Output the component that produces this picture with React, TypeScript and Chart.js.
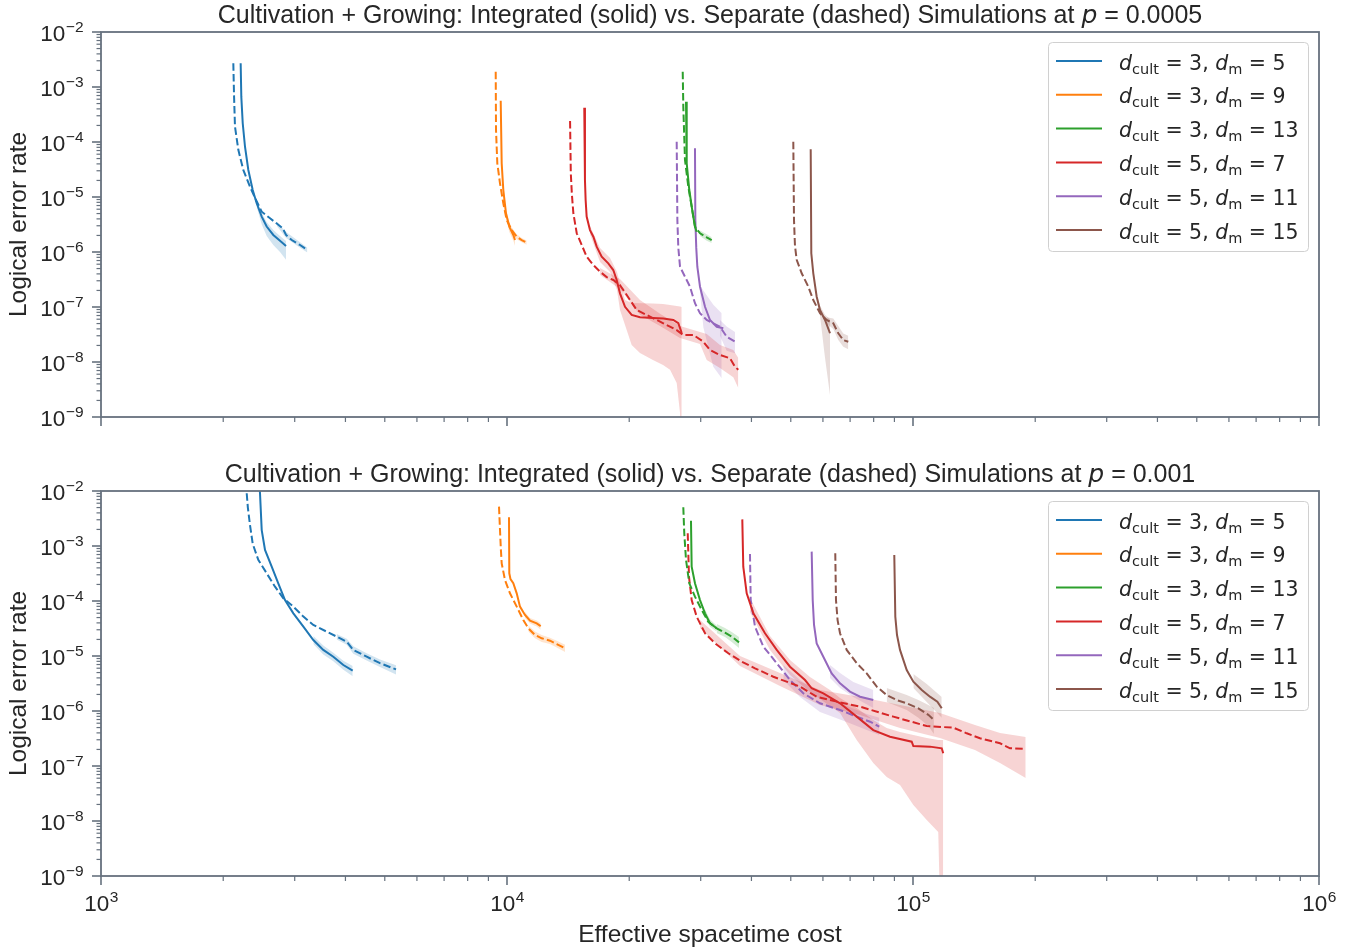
import React, { useEffect, useRef } from "react";
import { Chart, registerables } from "chart.js";
Chart.register(...registerables);

// ---------- labels / categories ----------
const SERIES_COLORS = ["#1f77b4", "#ff7f0e", "#2ca02c", "#d62728", "#9467bd", "#8c564b"];
const D_CULT = [3, 3, 3, 5, 5, 5];
const D_M = [5, 9, 13, 7, 11, 15];
const X_DECADES = [3, 4, 5, 6];
const Y_DECADES = [-9, -8, -7, -6, -5, -4, -3, -2];
const P_VALUES = ["0.0005", "0.001"];
const TITLE_PREFIX = "Cultivation + Growing: Integrated (solid) vs. Separate (dashed) Simulations at ";
const X_LABEL = "Effective spacetime cost";
const Y_LABEL = "Logical error rate";

// ---------- top panel (p = 0.0005) ----------
const T_BLUE_INT_X = [2208, 2216, 2234, 2263, 2306, 2364, 2418, 2488, 2559, 2657, 2760, 2856];
const T_BLUE_INT_Y = [2.7e-3, 6.67e-4, 2.19e-4, 8.2e-5, 3.1e-5, 1.34e-5, 7.7e-6, 4.4e-6, 2.9e-6, 2.04e-6, 1.6e-6, 1.29e-6];
const T_BLUE_INT_BX = [2418, 2488, 2559, 2657, 2760, 2856];
const T_BLUE_INT_LO = [6.6e-6, 3.2e-6, 1.95e-6, 1.34e-6, 1.0e-6, 7.2e-7];
const T_BLUE_INT_HI = [8.8e-6, 5.1e-6, 3.5e-6, 2.5e-6, 1.95e-6, 1.58e-6];
const T_BLUE_SEP_X = [2118, 2127, 2138, 2179, 2241, 2328, 2409, 2488, 2608, 2709, 2803, 2856, 2950, 3092, 3223];
const T_BLUE_SEP_Y = [2.7e-3, 6.67e-4, 1.9e-4, 7.2e-5, 3.1e-5, 1.54e-5, 8.8e-6, 5.4e-6, 4.1e-6, 3.3e-6, 2.7e-6, 2.04e-6, 1.65e-6, 1.34e-6, 1.09e-6];
const T_BLUE_SEP_BX = [2709, 2856, 3092, 3223];
const T_BLUE_SEP_LO = [3.0e-6, 1.8e-6, 1.2e-6, 0.98e-6];
const T_BLUE_SEP_HI = [3.6e-6, 2.3e-6, 1.5e-6, 1.2e-6];

const T_ORANGE_INT_X = [9649, 9703, 9793, 9943, 10131, 10364, 10464];
const T_ORANGE_INT_Y = [5.6e-4, 4.1e-5, 1.34e-5, 5.06e-6, 2.9e-6, 2.04e-6, 1.65e-6];
const T_ORANGE_INT_BX = [9943, 10131, 10364, 10464];
const T_ORANGE_INT_LO = [4.2e-6, 2.3e-6, 1.6e-6, 1.3e-6];
const T_ORANGE_INT_HI = [5.8e-6, 3.5e-6, 2.4e-6, 1.9e-6];
const T_ORANGE_SEP_X = [9380, 9396, 9465, 9611, 9793, 9984, 10271, 10566, 10870, 11183];
const T_ORANGE_SEP_Y = [1.9e-3, 1.65e-4, 4.1e-5, 1.77e-5, 7.7e-6, 3.8e-6, 2.5e-6, 1.9e-6, 1.65e-6, 1.48e-6];
const T_ORANGE_SEP_BX = [10271, 10566, 10870, 11183];
const T_ORANGE_SEP_LO = [2.2e-6, 1.7e-6, 1.5e-6, 1.35e-6];
const T_ORANGE_SEP_HI = [2.8e-6, 2.1e-6, 1.8e-6, 1.62e-6];

const T_GREEN_INT_X = [27600, 27710, 28120, 28670, 29040, 29320];
const T_GREEN_INT_Y = [5.4e-4, 4.1e-5, 1.34e-5, 5.06e-6, 2.9e-6, 2.34e-6];
const T_GREEN_INT_BX = [28670, 29040, 29320];
const T_GREEN_INT_LO = [4.2e-6, 2.4e-6, 1.9e-6];
const T_GREEN_INT_HI = [6.0e-6, 3.4e-6, 2.8e-6];
const T_GREEN_SEP_X = [27090, 27180, 27440, 27960, 28500, 29040, 29880, 31040, 31930];
const T_GREEN_SEP_Y = [1.9e-3, 4.38e-4, 4.7e-5, 1.54e-5, 6.7e-6, 2.9e-6, 2.19e-6, 1.85e-6, 1.65e-6];
const T_GREEN_SEP_BX = [29880, 31040, 31930];
const T_GREEN_SEP_LO = [1.95e-6, 1.6e-6, 1.45e-6];
const T_GREEN_SEP_HI = [2.45e-6, 2.1e-6, 1.85e-6];

const T_RED_INT_X = [15500, 15560, 15620, 15710, 16010, 16320, 16630, 17110, 17760, 18270, 18630, 18980, 19530, 20280, 21260, 22880, 24270, 25680, 26420, 26940];
const T_RED_INT_Y = [4.2e-4, 2.04e-5, 8.8e-6, 4.4e-6, 2.5e-6, 1.9e-6, 1.25e-6, 8.2e-7, 6.2e-7, 4.7e-7, 3.1e-7, 1.77e-7, 1.01e-7, 7.2e-8, 6.5e-8, 6.3e-8, 6.2e-8, 5.8e-8, 5.06e-8, 3.37e-8];
const T_RED_INT_BX = [16010, 16950, 17940, 18660, 18980, 19530, 20280, 21260, 22880, 24230, 25210, 26180, 26680, 26940];
const T_RED_INT_LO = [2.12e-6, 6.6e-7, 4.33e-7, 2.04e-7, 8.8e-8, 4.7e-8, 2.04e-8, 1.46e-8, 1.09e-8, 8.8e-9, 7.2e-9, 4.15e-9, 1.18e-9, 1e-12];
const T_RED_INT_HI = [2.97e-6, 1.18e-6, 7.8e-7, 4.33e-7, 2.73e-7, 1.34e-7, 1.18e-7, 1.17e-7, 1.16e-7, 1.13e-7, 1.09e-7, 1.04e-7, 1.02e-7, 1.0e-7];
const T_RED_SEP_X = [14300, 14360, 14450, 14570, 14850, 15280, 15710, 16320, 16950, 17600, 18270, 18980, 19720, 20870, 22500, 24270, 26180, 27180, 28770, 30450, 31620, 33460, 35420, 36440, 37130];
const T_RED_SEP_Y = [2.41e-4, 2.7e-5, 1.1e-5, 5.06e-6, 2.19e-6, 1.34e-6, 8.2e-7, 5.8e-7, 4.38e-7, 3.5e-7, 3.1e-7, 2.5e-7, 1.65e-7, 8.8e-8, 6.7e-8, 5.06e-8, 3.8e-8, 3.1e-8, 3.1e-8, 2.34e-8, 1.65e-8, 1.34e-8, 1.17e-8, 8.2e-9, 7.2e-9];
const T_RED_SEP_BX = [16950, 18980, 21260, 23820, 26680, 29880, 31040, 33460, 36090, 37130];
const T_RED_SEP_LO = [3.8e-7, 2.12e-7, 7.2e-8, 4.5e-8, 2.73e-8, 2.12e-8, 1.09e-8, 7.8e-9, 5.3e-9, 3.37e-9];
const T_RED_SEP_HI = [5.1e-7, 3.23e-7, 1.34e-7, 7.5e-8, 4.5e-8, 3.5e-8, 3.23e-8, 2.04e-8, 1.65e-8, 1.18e-8];

const T_PURPLE_INT_X = [29040, 29100, 29250, 29430, 29880, 30740, 31620, 32850, 34100];
const T_PURPLE_INT_Y = [7.7e-5, 3.8e-6, 1.2e-6, 5.4e-7, 2.34e-7, 1.01e-7, 5.8e-8, 4.38e-8, 4.1e-8];
const T_PURPLE_INT_BX = [29880, 30450, 32220, 33790];
const T_PURPLE_INT_LO = [1.87e-7, 4.3e-8, 8.2e-9, 5.06e-9];
const T_PURPLE_INT_HI = [2.5e-7, 2.0e-7, 1.1e-7, 7.7e-8];
const T_PURPLE_SEP_X = [26180, 26280, 26420, 26680, 27440, 28230, 29040, 29880, 31040, 32220, 33460, 34760, 36440];
const T_PURPLE_SEP_Y = [1.01e-4, 3.8e-6, 1.2e-6, 5.4e-7, 3.56e-7, 2.34e-7, 1.17e-7, 7.7e-8, 5.8e-8, 5.06e-8, 4.38e-8, 2.88e-8, 2.34e-8];
const T_PURPLE_SEP_BX = [33460, 34760, 36440];
const T_PURPLE_SEP_LO = [3.0e-8, 1.6e-8, 1.44e-8];
const T_PURPLE_SEP_HI = [5.8e-8, 4.4e-8, 3.5e-8];

const T_BROWN_INT_X = [55980, 56170, 56810, 57910, 59010, 60710, 62460];
const T_BROWN_INT_Y = [7.4e-5, 9.5e-7, 4.1e-7, 1.54e-7, 8.8e-8, 5.8e-8, 3.33e-8];
const T_BROWN_INT_BX = [57910, 59010, 60710, 62460];
const T_BROWN_INT_LO = [1.4e-7, 7.0e-8, 1.2e-8, 2.5e-9];
const T_BROWN_INT_HI = [1.7e-7, 1.05e-7, 7.2e-8, 6.0e-8];
const T_BROWN_SEP_X = [50720, 50920, 51200, 51700, 53190, 55220, 56810, 59010, 61290, 63630, 65460, 67340, 69280];
const T_BROWN_SEP_Y = [1.01e-4, 3.8e-6, 1.3e-6, 7.2e-7, 4.1e-7, 2.34e-7, 1.34e-7, 7.7e-8, 5.8e-8, 5.06e-8, 3.33e-8, 2.5e-8, 2.34e-8];
const T_BROWN_SEP_BX = [61290, 63630, 65460, 67340, 69280];
const T_BROWN_SEP_LO = [5.0e-8, 4.0e-8, 2.5e-8, 1.9e-8, 1.7e-8];
const T_BROWN_SEP_HI = [6.5e-8, 6.2e-8, 4.5e-8, 3.3e-8, 3.0e-8];

// ---------- bottom panel (p = 0.001) ----------
const B_BLUE_INT_X = [2455, 2464, 2488, 2535, 2633, 2733, 2839, 2977, 3151, 3334, 3528, 3734, 3953, 4168];
const B_BLUE_INT_Y = [1.3e-2, 9.1e-3, 1.95e-3, 8.5e-4, 4.2e-4, 2.1e-4, 1.04e-4, 5.97e-5, 3.41e-5, 1.95e-5, 1.29e-5, 9.7e-6, 6.86e-6, 5.4e-6];
const B_BLUE_INT_BX = [3334, 3528, 3734, 3953, 4168];
const B_BLUE_INT_LO = [1.65e-5, 1.07e-5, 8.0e-6, 5.6e-6, 4.3e-6];
const B_BLUE_INT_HI = [2.3e-5, 1.55e-5, 1.15e-5, 8.2e-6, 6.6e-6];
const B_BLUE_SEP_X = [2285, 2300, 2328, 2364, 2440, 2559, 2683, 2812, 2977, 3151, 3334, 3597, 3806, 4029, 4182, 4512, 4866, 5329];
const B_BLUE_SEP_Y = [9.1e-3, 5.0e-3, 2.4e-3, 1.1e-3, 5.6e-4, 3.19e-4, 1.82e-4, 1.12e-4, 7.9e-5, 5.2e-5, 3.66e-5, 2.77e-5, 2.25e-5, 1.82e-5, 1.29e-5, 9.7e-6, 7.4e-6, 5.7e-6];
const B_BLUE_SEP_BX = [3806, 4029, 4182, 4512, 4866, 5329];
const B_BLUE_SEP_LO = [2.0e-5, 1.6e-5, 1.1e-5, 8.3e-6, 6.3e-6, 4.6e-6];
const B_BLUE_SEP_HI = [2.5e-5, 2.05e-5, 1.5e-5, 1.12e-5, 8.6e-6, 6.8e-6];

const B_ORANGE_INT_X = [10114, 10131, 10200, 10364, 10566, 10764, 11074, 11395, 11836, 12106];
const B_ORANGE_INT_Y = [3.33e-3, 3.19e-4, 2.5e-4, 2.1e-4, 1.38e-4, 7.9e-5, 5.56e-5, 4.38e-5, 3.93e-5, 3.5e-5];
const B_ORANGE_INT_BX = [11074, 11395, 11836, 12106];
const B_ORANGE_INT_LO = [4.9e-5, 3.9e-5, 3.45e-5, 3.0e-5];
const B_ORANGE_INT_HI = [6.3e-5, 4.9e-5, 4.4e-5, 4.0e-5];
const B_ORANGE_SEP_X = [9557, 9611, 9660, 9703, 9887, 10171, 10566, 10968, 11285, 11722, 12175, 12764, 13258, 13900];
const B_ORANGE_SEP_Y = [5.2e-3, 1.95e-3, 8.5e-4, 4.84e-4, 2.41e-4, 1.38e-4, 7.9e-5, 4.5e-5, 3.19e-5, 2.41e-5, 2.1e-5, 1.9e-5, 1.65e-5, 1.38e-5];
const B_ORANGE_SEP_BX = [11285, 11722, 12175, 12764, 13258, 13900];
const B_ORANGE_SEP_LO = [2.8e-5, 2.1e-5, 1.8e-5, 1.65e-5, 1.42e-5, 1.18e-5];
const B_ORANGE_SEP_HI = [3.6e-5, 2.8e-5, 2.4e-5, 2.15e-5, 1.9e-5, 1.6e-5];

const B_GREEN_INT_X = [28390, 28500, 29040, 29880, 30740, 31620, 32850];
const B_GREEN_INT_Y = [2.88e-3, 4.2e-4, 2.1e-4, 1.04e-4, 5.97e-5, 3.93e-5, 3.19e-5];
const B_GREEN_INT_BX = [30740, 31620, 32850];
const B_GREEN_INT_LO = [5.2e-5, 3.4e-5, 2.8e-5];
const B_GREEN_INT_HI = [7.0e-5, 4.6e-5, 3.6e-5];
const B_GREEN_SEP_X = [27180, 27330, 27600, 28120, 29040, 30170, 31310, 32850, 34430, 35770, 37280];
const B_GREEN_SEP_Y = [5.06e-3, 1.7e-3, 5.6e-4, 2.1e-4, 1.2e-4, 6.86e-5, 4.2e-5, 3.19e-5, 2.65e-5, 2.25e-5, 1.77e-5];
const B_GREEN_SEP_BX = [32850, 34430, 35770, 37280];
const B_GREEN_SEP_LO = [2.62e-5, 2.21e-5, 1.8e-5, 1.4e-5];
const B_GREEN_SEP_HI = [3.82e-5, 3.23e-5, 2.73e-5, 2.21e-5];

const B_RED_INT_X = [37980, 38190, 38940, 40440, 43200, 46170, 49780, 54200, 56290, 60130, 66110, 72660, 79840, 87770, 99260, 100200, 110100, 117700, 118700];
const B_RED_INT_Y = [3.05e-3, 4.2e-4, 1.38e-4, 5.97e-5, 2.59e-5, 1.29e-5, 6.38e-6, 3.66e-6, 2.59e-6, 2.1e-6, 1.38e-6, 7.9e-7, 4.5e-7, 3.41e-7, 2.77e-7, 2.31e-7, 2.25e-7, 2.1e-7, 1.7e-7];
const B_RED_INT_BX = [39670, 44440, 49780, 55750, 62460, 66110, 72660, 79840, 86140, 92900, 100200, 108100, 115400, 118700];
const B_RED_INT_LO = [6.3e-5, 1.29e-5, 4.5e-6, 2.21e-6, 1.23e-6, 9.2e-7, 2.97e-7, 1.13e-7, 6.3e-8, 4.5e-8, 1.95e-8, 1.04e-8, 6.3e-9, 1e-12];
const B_RED_INT_HI = [1.13e-4, 2.31e-5, 8.5e-6, 4.15e-6, 2.41e-6, 1.72e-6, 1.13e-6, 6.86e-7, 4.9e-7, 4.15e-7, 3.66e-7, 3.23e-7, 2.97e-7, 2.97e-7];
const B_RED_SEP_X = [27870, 28070, 28500, 29320, 30740, 32530, 35090, 37850, 40820, 45290, 52690, 57910, 64870, 74060, 89430, 108100, 125700, 135600, 146200, 163800, 173400, 189500];
const B_RED_SEP_Y = [1.7e-3, 2.77e-4, 1.04e-4, 5.2e-5, 2.59e-5, 1.7e-5, 1.12e-5, 7.9e-6, 5.97e-6, 4.2e-6, 2.77e-6, 1.82e-6, 1.48e-6, 1.2e-6, 7.9e-7, 5.33e-7, 4.97e-7, 3.93e-7, 3.19e-7, 2.59e-7, 2.1e-7, 2.04e-7];
const B_RED_SEP_BX = [29880, 37490, 47030, 59010, 74060, 92900, 116500, 142100, 163800, 189500];
const B_RED_SEP_LO = [3.23e-5, 6.6e-6, 2.85e-6, 1.29e-6, 8.5e-7, 4.9e-7, 3.23e-7, 1.95e-7, 1.13e-7, 6.05e-8];
const B_RED_SEP_HI = [4.5e-5, 1.0e-5, 4.9e-6, 2.41e-6, 1.8e-6, 1.29e-6, 9.2e-7, 5.56e-7, 3.98e-7, 3.37e-7];

const B_PURPLE_INT_X = [56290, 56620, 57050, 57910, 60130, 63050, 66110, 69940, 74060, 79840];
const B_PURPLE_INT_Y = [7.9e-4, 1.04e-4, 3.66e-5, 1.7e-5, 9.7e-6, 4.84e-6, 3.19e-6, 2.25e-6, 1.82e-6, 1.58e-6];
const B_PURPLE_INT_BX = [62460, 66110, 71290, 79840];
const B_PURPLE_INT_LO = [3.98e-6, 2.62e-6, 1.8e-6, 1.13e-6];
const B_PURPLE_INT_HI = [6.86e-6, 4.9e-6, 3.37e-6, 2.41e-6];
const B_PURPLE_SEP_X = [39670, 39830, 40820, 42790, 46170, 49780, 53670, 59010, 66110, 72660, 78370, 82600];
const B_PURPLE_SEP_Y = [7.16e-4, 1.04e-4, 3.41e-5, 1.48e-5, 7.4e-6, 3.66e-6, 2.1e-6, 1.38e-6, 1.04e-6, 7.9e-7, 6.38e-7, 5.19e-7];
const B_PURPLE_SEP_BX = [47930, 52690, 59010, 68660, 76910, 82600];
const B_PURPLE_SEP_LO = [3.66e-6, 1.8e-6, 9.6e-7, 6.3e-7, 4.5e-7, 3.66e-7];
const B_PURPLE_SEP_HI = [6.86e-6, 3.66e-6, 2.12e-6, 1.23e-6, 8.8e-7, 7.5e-7];

const B_BROWN_INT_X = [89930, 90450, 91330, 92900, 96500, 100200, 105100, 110100, 114800, 117700];
const B_BROWN_INT_Y = [6.86e-4, 5.2e-5, 2.41e-5, 1.29e-5, 5.56e-6, 3.41e-6, 2.41e-6, 1.82e-6, 1.48e-6, 1.12e-6];
const B_BROWN_INT_BX = [100200, 108100, 117700];
const B_BROWN_INT_LO = [2.62e-6, 1.46e-6, 7.5e-7];
const B_BROWN_INT_HI = [4.7e-6, 3.1e-6, 1.8e-6];
const B_BROWN_SEP_X = [64350, 64610, 65200, 66110, 68660, 72660, 76910, 81410, 86140, 91190, 96500, 103100, 109100, 112600];
const B_BROWN_SEP_Y = [7.36e-4, 1.04e-4, 4.5e-5, 2.59e-5, 1.29e-5, 7.4e-6, 4.84e-6, 2.77e-6, 1.95e-6, 1.58e-6, 1.38e-6, 1.12e-6, 8.5e-7, 6.86e-7];
const B_BROWN_SEP_BX = [86140, 96500, 103100, 109100, 112600];
const B_BROWN_SEP_LO = [1.46e-6, 1.04e-6, 7.5e-7, 5.33e-7, 3.82e-7];
const B_BROWN_SEP_HI = [2.62e-6, 1.95e-6, 1.58e-6, 1.29e-6, 1.13e-6];

type Series = { c: number; dashed: boolean; x: number[]; y: number[]; bx: number[]; lo: number[]; hi: number[] };
const S = (c: number, dashed: boolean, x: number[], y: number[], bx: number[], lo: number[], hi: number[]): Series => ({ c, dashed, x, y, bx, lo, hi });

const TOP_SERIES: Series[] = [
  S(0, false, T_BLUE_INT_X, T_BLUE_INT_Y, T_BLUE_INT_BX, T_BLUE_INT_LO, T_BLUE_INT_HI),
  S(0, true, T_BLUE_SEP_X, T_BLUE_SEP_Y, T_BLUE_SEP_BX, T_BLUE_SEP_LO, T_BLUE_SEP_HI),
  S(1, false, T_ORANGE_INT_X, T_ORANGE_INT_Y, T_ORANGE_INT_BX, T_ORANGE_INT_LO, T_ORANGE_INT_HI),
  S(1, true, T_ORANGE_SEP_X, T_ORANGE_SEP_Y, T_ORANGE_SEP_BX, T_ORANGE_SEP_LO, T_ORANGE_SEP_HI),
  S(2, false, T_GREEN_INT_X, T_GREEN_INT_Y, T_GREEN_INT_BX, T_GREEN_INT_LO, T_GREEN_INT_HI),
  S(2, true, T_GREEN_SEP_X, T_GREEN_SEP_Y, T_GREEN_SEP_BX, T_GREEN_SEP_LO, T_GREEN_SEP_HI),
  S(3, false, T_RED_INT_X, T_RED_INT_Y, T_RED_INT_BX, T_RED_INT_LO, T_RED_INT_HI),
  S(3, true, T_RED_SEP_X, T_RED_SEP_Y, T_RED_SEP_BX, T_RED_SEP_LO, T_RED_SEP_HI),
  S(4, false, T_PURPLE_INT_X, T_PURPLE_INT_Y, T_PURPLE_INT_BX, T_PURPLE_INT_LO, T_PURPLE_INT_HI),
  S(4, true, T_PURPLE_SEP_X, T_PURPLE_SEP_Y, T_PURPLE_SEP_BX, T_PURPLE_SEP_LO, T_PURPLE_SEP_HI),
  S(5, false, T_BROWN_INT_X, T_BROWN_INT_Y, T_BROWN_INT_BX, T_BROWN_INT_LO, T_BROWN_INT_HI),
  S(5, true, T_BROWN_SEP_X, T_BROWN_SEP_Y, T_BROWN_SEP_BX, T_BROWN_SEP_LO, T_BROWN_SEP_HI),
];
const BOTTOM_SERIES: Series[] = [
  S(0, false, B_BLUE_INT_X, B_BLUE_INT_Y, B_BLUE_INT_BX, B_BLUE_INT_LO, B_BLUE_INT_HI),
  S(0, true, B_BLUE_SEP_X, B_BLUE_SEP_Y, B_BLUE_SEP_BX, B_BLUE_SEP_LO, B_BLUE_SEP_HI),
  S(1, false, B_ORANGE_INT_X, B_ORANGE_INT_Y, B_ORANGE_INT_BX, B_ORANGE_INT_LO, B_ORANGE_INT_HI),
  S(1, true, B_ORANGE_SEP_X, B_ORANGE_SEP_Y, B_ORANGE_SEP_BX, B_ORANGE_SEP_LO, B_ORANGE_SEP_HI),
  S(2, false, B_GREEN_INT_X, B_GREEN_INT_Y, B_GREEN_INT_BX, B_GREEN_INT_LO, B_GREEN_INT_HI),
  S(2, true, B_GREEN_SEP_X, B_GREEN_SEP_Y, B_GREEN_SEP_BX, B_GREEN_SEP_LO, B_GREEN_SEP_HI),
  S(3, false, B_RED_INT_X, B_RED_INT_Y, B_RED_INT_BX, B_RED_INT_LO, B_RED_INT_HI),
  S(3, true, B_RED_SEP_X, B_RED_SEP_Y, B_RED_SEP_BX, B_RED_SEP_LO, B_RED_SEP_HI),
  S(4, false, B_PURPLE_INT_X, B_PURPLE_INT_Y, B_PURPLE_INT_BX, B_PURPLE_INT_LO, B_PURPLE_INT_HI),
  S(4, true, B_PURPLE_SEP_X, B_PURPLE_SEP_Y, B_PURPLE_SEP_BX, B_PURPLE_SEP_LO, B_PURPLE_SEP_HI),
  S(5, false, B_BROWN_INT_X, B_BROWN_INT_Y, B_BROWN_INT_BX, B_BROWN_INT_LO, B_BROWN_INT_HI),
  S(5, true, B_BROWN_SEP_X, B_BROWN_SEP_Y, B_BROWN_SEP_BX, B_BROWN_SEP_LO, B_BROWN_SEP_HI),
];

// ---------- styling ----------
const SANS = '"Liberation Sans", Arial, Helvetica, sans-serif';
const MATH = '"DejaVu Sans", sans-serif';
const INK = "#262626";
const SPINE = "#66717e";
const TICK_PX = 22.5;
const SUP_PX = 15.5;
const LABEL_PX = 24.5;
const TITLE_PX = 25;
const LEG_PX = 20.5;
const LEG_SUB_PX = 14.5;

function rgba(hex: string, a: number) {
  const n = parseInt(hex.slice(1), 16);
  return `rgba(${(n >> 16) & 255},${(n >> 8) & 255},${n & 255},${a})`;
}

function buildDatasets(series: Series[]) {
  const ds: any[] = [];
  series.forEach((s) => {
    const col = SERIES_COLORS[s.c];
    ds.push({
      data: s.bx.map((x, i) => ({ x, y: s.hi[i] })),
      borderWidth: 0, borderColor: "rgba(0,0,0,0)", pointRadius: 0,
      fill: "+1", backgroundColor: rgba(col, 0.2), order: 2,
    });
    ds.push({
      data: s.bx.map((x, i) => ({ x, y: s.lo[i] })),
      borderWidth: 0, borderColor: "rgba(0,0,0,0)", pointRadius: 0,
      fill: false, order: 2,
    });
  });
  series.forEach((s) => {
    const col = SERIES_COLORS[s.c];
    ds.push({
      data: s.x.map((x, i) => ({ x, y: s.y[i] })),
      borderColor: col, borderWidth: 2, pointRadius: 0, fill: false,
      borderDash: s.dashed ? [7.5, 3.2] : [], order: 1, tension: 0,
    });
  });
  return ds;
}

type Run = [string, "n" | "i" | "s"];
function drawRuns(ctx: CanvasRenderingContext2D, runs: Run[], x: number, y: number) {
  let cx = x;
  for (const [t, k] of runs) {
    if (k === "i") ctx.font = `italic ${LEG_PX}px ${MATH}`;
    else if (k === "s") ctx.font = `${LEG_SUB_PX}px ${MATH}`;
    else ctx.font = `${LEG_PX}px ${MATH}`;
    ctx.fillText(t, cx, k === "s" ? y + 4 : y);
    cx += ctx.measureText(t).width;
  }
}

function drawPow(ctx: CanvasRenderingContext2D, e: number, x: number, y: number, align: "right" | "center") {
  const base = "10";
  const sup = e < 0 ? "\u2212" + Math.abs(e) : String(e);
  ctx.font = `${TICK_PX}px ${SANS}`;
  const wb = ctx.measureText(base).width;
  ctx.font = `${SUP_PX}px ${SANS}`;
  const ws = ctx.measureText(sup).width;
  const x0 = align === "right" ? x - wb - ws : x - (wb + ws) / 2;
  ctx.textAlign = "left";
  ctx.textBaseline = "alphabetic";
  ctx.font = `${TICK_PX}px ${SANS}`;
  ctx.fillText(base, x0, y);
  ctx.font = `${SUP_PX}px ${SANS}`;
  ctx.fillText(sup, x0 + wb + 0.5, y - 9.5);
}

type PanelCfg = { p: string; series: Series[]; top: number; h: number; pad: any; xLabels: boolean; titleBase: number };

function makeDecor(cfg: PanelCfg) {
  return {
    id: "decor",
    afterDraw(chart: any) {
      const ctx: CanvasRenderingContext2D = chart.ctx;
      const a = chart.chartArea;
      const xs = chart.scales.x, ys = chart.scales.y;
      ctx.save();
      // legend
      const bw = 260, bh = 209;
      const bx = a.right - 11 - bw, by = a.top + 10;
      ctx.beginPath();
      (ctx as any).roundRect(bx + 0.5, by + 0.5, bw, bh, 4);
      ctx.fillStyle = "rgba(255,255,255,0.8)";
      ctx.fill();
      ctx.strokeStyle = "#d0d0d0";
      ctx.lineWidth = 1;
      ctx.stroke();
      for (let i = 0; i < SERIES_COLORS.length; i++) {
        const cy = by + 19 + i * 33.8;
        ctx.strokeStyle = SERIES_COLORS[i];
        ctx.lineWidth = 2;
        ctx.beginPath();
        ctx.moveTo(bx + 8, cy);
        ctx.lineTo(bx + 54, cy);
        ctx.stroke();
        ctx.fillStyle = INK;
        ctx.textAlign = "left";
        ctx.textBaseline = "alphabetic";
        drawRuns(ctx, [["d", "i"], ["cult", "s"], [" = " + D_CULT[i] + ", ", "n"], ["d", "i"], ["m", "s"], [" = " + D_M[i], "n"]], bx + 71, cy + 8.5);
      }
      // spines
      ctx.strokeStyle = SPINE;
      ctx.lineWidth = 1.8;
      ctx.strokeRect(a.left, a.top, a.right - a.left, a.bottom - a.top);
      // x ticks
      for (const e of X_DECADES) {
        for (let m = 1; m <= 9; m++) {
          if (e === 6 && m > 1) break;
          const px = xs.getPixelForValue(m * Math.pow(10, e));
          ctx.lineWidth = m === 1 ? 1.6 : 1.2;
          ctx.beginPath();
          ctx.moveTo(px, a.bottom);
          ctx.lineTo(px, a.bottom + (m === 1 ? 9 : 5));
          ctx.stroke();
        }
      }
      // y ticks
      for (const e of Y_DECADES) {
        for (let m = 1; m <= 9; m++) {
          if (e === -2 && m > 1) break;
          const py = ys.getPixelForValue(m * Math.pow(10, e));
          ctx.lineWidth = m === 1 ? 1.6 : 1.2;
          ctx.beginPath();
          ctx.moveTo(a.left, py);
          ctx.lineTo(a.left - (m === 1 ? 9 : 4.5), py);
          ctx.stroke();
        }
      }
      ctx.fillStyle = INK;
      for (const e of Y_DECADES) {
        const py = ys.getPixelForValue(Math.pow(10, e));
        drawPow(ctx, e, a.left - 18, py + 9, "right");
      }
      if (cfg.xLabels) {
        for (const e of X_DECADES) {
          const px = xs.getPixelForValue(Math.pow(10, e));
          drawPow(ctx, e, px, a.bottom + 35, "center");
        }
        ctx.font = `${LABEL_PX}px ${SANS}`;
        ctx.textAlign = "center";
        ctx.fillText(X_LABEL, (a.left + a.right) / 2, a.bottom + 66);
      }
      // y label
      ctx.save();
      ctx.translate(26, (a.top + a.bottom) / 2);
      ctx.rotate(-Math.PI / 2);
      ctx.font = `${LABEL_PX}px ${SANS}`;
      ctx.textAlign = "center";
      ctx.fillText(Y_LABEL, 0, 0);
      ctx.restore();
      // title
      const pieces: [string, string][] = [
        [TITLE_PREFIX, `${TITLE_PX}px ${SANS}`],
        ["p", `italic ${TITLE_PX}px ${MATH}`],
        [" = " + cfg.p, `${TITLE_PX}px ${SANS}`],
      ];
      let total = 0;
      for (const [t, f] of pieces) { ctx.font = f; total += ctx.measureText(t).width; }
      let tx = (a.left + a.right) / 2 - total / 2;
      ctx.textAlign = "left";
      for (const [t, f] of pieces) {
        ctx.font = f;
        ctx.fillText(t, tx, cfg.titleBase);
        tx += ctx.measureText(t).width;
      }
      ctx.restore();
    },
  };
}

const PANELS: PanelCfg[] = [
  { p: P_VALUES[0], series: TOP_SERIES, top: 0, h: 452, pad: { left: 101, right: 45, top: 32, bottom: 35 }, xLabels: false, titleBase: 23 },
  { p: P_VALUES[1], series: BOTTOM_SERIES, top: 452, h: 500, pad: { left: 101, right: 45, top: 39, bottom: 76 }, xLabels: true, titleBase: 30 },
];

function Panel({ cfg }: { cfg: PanelCfg }) {
  const ref = useRef<HTMLCanvasElement | null>(null);
  useEffect(() => {
    const chart = new Chart(ref.current as HTMLCanvasElement, {
      type: "line",
      data: { datasets: buildDatasets(cfg.series) },
      options: {
        animation: false,
        responsive: false,
        devicePixelRatio: 1,
        events: [],
        layout: { padding: cfg.pad },
        plugins: { legend: { display: false }, tooltip: { enabled: false }, title: { display: false } },
        scales: {
          x: { type: "logarithmic", min: 1e3, max: 1e6, display: false },
          y: { type: "logarithmic", min: 1e-9, max: 1e-2, display: false },
        },
      } as any,
      plugins: [makeDecor(cfg) as any],
    });
    return () => chart.destroy();
  }, []);
  return (
    <canvas
      ref={ref}
      width={1364}
      height={cfg.h}
      style={{ position: "absolute", left: 0, top: cfg.top, width: 1364, height: cfg.h }}
    />
  );
}

export default function App() {
  return (
    <div style={{ position: "absolute", left: 0, top: 0, width: 1364, height: 952, background: "#fff", overflow: "hidden" }}>
      {PANELS.map((cfg, i) => (
        <Panel key={i} cfg={cfg} />
      ))}
    </div>
  );
}
